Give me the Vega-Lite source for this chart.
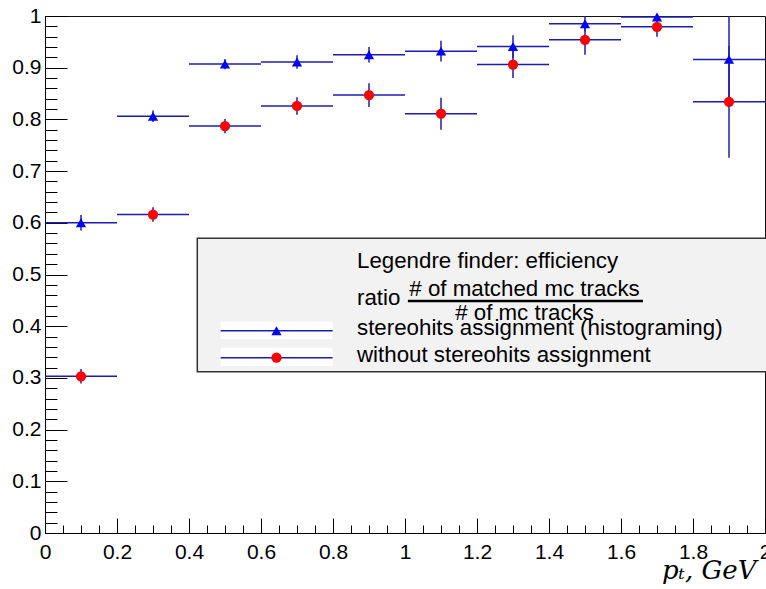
{
  "$schema": "https://vega.github.io/schema/vega-lite/v6.json",
  "width": 720,
  "height": 517,
  "autosize": "none",
  "padding": {"left": 45, "top": 16, "right": 1, "bottom": 56},
  "background": "white",
  "config": {
    "view": {"stroke": "#111111", "strokeWidth": 1},
    "font": "Liberation Sans",
    "text": {"font": "Liberation Sans", "fontSize": 22.3, "color": "black"}
  },
  "datasets": {
    "eff": [
      {"series": "stereohits assignment (histograming)", "lo": 0.0, "hi": 0.2, "pt": 0.1, "eff": 0.600, "elo": 0.585, "ehi": 0.615},
      {"series": "stereohits assignment (histograming)", "lo": 0.2, "hi": 0.4, "pt": 0.3, "eff": 0.806, "elo": 0.795, "ehi": 0.817},
      {"series": "stereohits assignment (histograming)", "lo": 0.4, "hi": 0.6, "pt": 0.5, "eff": 0.907, "elo": 0.897, "ehi": 0.917},
      {"series": "stereohits assignment (histograming)", "lo": 0.6, "hi": 0.8, "pt": 0.7, "eff": 0.911, "elo": 0.898, "ehi": 0.924},
      {"series": "stereohits assignment (histograming)", "lo": 0.8, "hi": 1.0, "pt": 0.9, "eff": 0.925, "elo": 0.910, "ehi": 0.940},
      {"series": "stereohits assignment (histograming)", "lo": 1.0, "hi": 1.2, "pt": 1.1, "eff": 0.932, "elo": 0.912, "ehi": 0.952},
      {"series": "stereohits assignment (histograming)", "lo": 1.2, "hi": 1.4, "pt": 1.3, "eff": 0.941, "elo": 0.919, "ehi": 0.963},
      {"series": "stereohits assignment (histograming)", "lo": 1.4, "hi": 1.6, "pt": 1.5, "eff": 0.985, "elo": 0.970, "ehi": 1.000},
      {"series": "stereohits assignment (histograming)", "lo": 1.6, "hi": 1.8, "pt": 1.7, "eff": 0.998, "elo": 0.990, "ehi": 1.000},
      {"series": "stereohits assignment (histograming)", "lo": 1.8, "hi": 2.0, "pt": 1.9, "eff": 0.916, "elo": 0.826, "ehi": 1.000},
      {"series": "without stereohits assignment", "lo": 0.0, "hi": 0.2, "pt": 0.1, "eff": 0.303, "elo": 0.289, "ehi": 0.317},
      {"series": "without stereohits assignment", "lo": 0.2, "hi": 0.4, "pt": 0.3, "eff": 0.616, "elo": 0.602, "ehi": 0.630},
      {"series": "without stereohits assignment", "lo": 0.4, "hi": 0.6, "pt": 0.5, "eff": 0.787, "elo": 0.773, "ehi": 0.801},
      {"series": "without stereohits assignment", "lo": 0.6, "hi": 0.8, "pt": 0.7, "eff": 0.826, "elo": 0.809, "ehi": 0.843},
      {"series": "without stereohits assignment", "lo": 0.8, "hi": 1.0, "pt": 0.9, "eff": 0.847, "elo": 0.824, "ehi": 0.870},
      {"series": "without stereohits assignment", "lo": 1.0, "hi": 1.2, "pt": 1.1, "eff": 0.811, "elo": 0.780, "ehi": 0.842},
      {"series": "without stereohits assignment", "lo": 1.2, "hi": 1.4, "pt": 1.3, "eff": 0.906, "elo": 0.880, "ehi": 0.932},
      {"series": "without stereohits assignment", "lo": 1.4, "hi": 1.6, "pt": 1.5, "eff": 0.954, "elo": 0.925, "ehi": 0.983},
      {"series": "without stereohits assignment", "lo": 1.6, "hi": 1.8, "pt": 1.7, "eff": 0.979, "elo": 0.960, "ehi": 0.998},
      {"series": "without stereohits assignment", "lo": 1.8, "hi": 2.0, "pt": 1.9, "eff": 0.834, "elo": 0.726, "ehi": 0.942}
    ]
  },
  "layer": [
    {
      "data": {"name": "eff"},
      "mark": {"type": "rule", "stroke": "#1c1cb0", "strokeWidth": 1.5},
      "encoding": {
        "x": {"field": "lo", "type": "quantitative", "scale": {"domain": [0, 2], "nice": false, "zero": false},
          "axis": {"orient": "bottom", "values": [0, 0.2, 0.4, 0.6, 0.8, 1, 1.2, 1.4, 1.6, 1.8, 2], "format": "~g",
            "ticks": false, "tickSize": 0, "grid": false, "domain": true, "domainColor": "black", "domainWidth": 1,
            "labelFont": "Liberation Sans", "labelFontSize": 21, "labelColor": "black", "labelPadding": 8, "labelFlush": false, "labelOverlap": false,
            "title": "pₜ, GeV", "titleFont": "DejaVu Serif", "titleFontStyle": "italic", "titleFontWeight": "normal", "titleFontSize": 26,
            "titleColor": "black", "titleAlign": "right", "titleBaseline": "alphabetic", "titleX": 711, "titleY": 45}},
        "x2": {"field": "hi"},
        "y": {"field": "eff", "type": "quantitative", "scale": {"domain": [0, 1], "nice": false, "zero": false},
          "axis": {"orient": "left", "values": [0, 0.1, 0.2, 0.3, 0.4, 0.5, 0.6, 0.7, 0.8, 0.9, 1], "format": "~g",
            "ticks": false, "tickSize": 0, "grid": false, "domain": true, "domainColor": "black", "domainWidth": 1,
            "labelFont": "Liberation Sans", "labelFontSize": 21, "labelColor": "black", "labelPadding": 4, "labelFlush": false, "labelOverlap": false,
            "title": null}}
      }
    },
    {
      "data": {"name": "eff"},
      "mark": {"type": "rule", "stroke": "#1c1cb0", "strokeWidth": 1.5, "clip": true},
      "encoding": {
        "x": {"field": "pt", "type": "quantitative", "scale": {"domain": [0, 2], "nice": false, "zero": false},
          "axis": {"orient": "bottom", "values": [0, 0.2, 0.4, 0.6, 0.8, 1, 1.2, 1.4, 1.6, 1.8, 2], "labels": false, "domain": false, "grid": false,
            "ticks": true, "tickSize": -15, "tickColor": "black", "tickWidth": 1, "title": null}},
        "y": {"field": "elo", "type": "quantitative", "scale": {"domain": [0, 1], "nice": false, "zero": false},
          "axis": {"orient": "left", "values": [0, 0.1, 0.2, 0.3, 0.4, 0.5, 0.6, 0.7, 0.8, 0.9, 1], "labels": false, "domain": false, "grid": false,
            "ticks": true, "tickSize": -22, "tickColor": "black", "tickWidth": 1, "title": null}},
        "y2": {"field": "ehi"}
      }
    },
    {
      "data": {"name": "eff"},
      "mark": {"type": "point", "filled": true, "opacity": 1, "size": 105},
      "encoding": {
        "x": {"field": "pt", "type": "quantitative", "scale": {"domain": [0, 2], "nice": false, "zero": false},
          "axis": {"orient": "bottom", "values": [0, 0.05, 0.1, 0.15, 0.2, 0.25, 0.3, 0.35, 0.4, 0.45, 0.5, 0.55, 0.6, 0.65, 0.7, 0.75, 0.8, 0.85, 0.9, 0.95, 1, 1.05, 1.1, 1.15, 1.2, 1.25, 1.3, 1.35, 1.4, 1.45, 1.5, 1.55, 1.6, 1.65, 1.7, 1.75, 1.8, 1.85, 1.9, 1.95, 2],
            "labels": false, "domain": false, "grid": false, "ticks": true, "tickSize": -8, "tickColor": "black", "tickWidth": 1, "title": null}},
        "y": {"field": "eff", "type": "quantitative", "scale": {"domain": [0, 1], "nice": false, "zero": false},
          "axis": {"orient": "left", "values": [0, 0.02, 0.04, 0.06, 0.08, 0.1, 0.12, 0.14, 0.16, 0.18, 0.2, 0.22, 0.24, 0.26, 0.28, 0.3, 0.32, 0.34, 0.36, 0.38, 0.4, 0.42, 0.44, 0.46, 0.48, 0.5, 0.52, 0.54, 0.56, 0.58, 0.6, 0.62, 0.64, 0.66, 0.68, 0.7, 0.72, 0.74, 0.76, 0.78, 0.8, 0.82, 0.84, 0.86, 0.88, 0.9, 0.92, 0.94, 0.96, 0.98, 1],
            "labels": false, "domain": false, "grid": false, "ticks": true, "tickSize": -12, "tickColor": "black", "tickWidth": 1, "title": null}},
        "shape": {"field": "series", "type": "nominal", "scale": {"domain": ["stereohits assignment (histograming)", "without stereohits assignment"], "range": ["triangle-up", "circle"]}, "legend": null},
        "color": {"field": "series", "type": "nominal", "scale": {"domain": ["stereohits assignment (histograming)", "without stereohits assignment"], "range": ["#0000ff", "#ff0000"]}, "legend": null}
      }
    },
    {
      "data": {"values": [{}]},
      "mark": {"type": "rect", "fill": "#f2f2f2", "stroke": "#333333", "strokeWidth": 1.5},
      "encoding": {
        "x": {"datum": 0.423, "type": "quantitative", "scale": {"domain": [0, 2]}, "axis": null},
        "x2": {"datum": 2.01},
        "y": {"datum": 0.570, "type": "quantitative", "scale": {"domain": [0, 1]}, "axis": null},
        "y2": {"datum": 0.312}
      }
    },
    {
      "data": {"values": [{}]},
      "mark": {"type": "rect", "fill": "white", "strokeWidth": 0},
      "encoding": {
        "x": {"datum": 0.488, "type": "quantitative", "scale": {"domain": [0, 2]}, "axis": null},
        "x2": {"datum": 0.799},
        "y": {"datum": 0.4087, "type": "quantitative", "scale": {"domain": [0, 1]}, "axis": null},
        "y2": {"datum": 0.3752}
      }
    },
    {
      "data": {"values": [{}]},
      "mark": {"type": "rect", "fill": "white", "strokeWidth": 0},
      "encoding": {
        "x": {"datum": 0.488, "type": "quantitative", "scale": {"domain": [0, 2]}, "axis": null},
        "x2": {"datum": 0.799},
        "y": {"datum": 0.3584, "type": "quantitative", "scale": {"domain": [0, 1]}, "axis": null},
        "y2": {"datum": 0.3230}
      }
    },
    {
      "data": {"values": [{}]},
      "mark": {"type": "rule", "stroke": "#1c1cb0", "strokeWidth": 1.5},
      "encoding": {
        "x": {"datum": 0.488, "type": "quantitative", "scale": {"domain": [0, 2]}, "axis": null},
        "x2": {"datum": 0.799},
        "y": {"datum": 0.3913, "type": "quantitative", "scale": {"domain": [0, 1]}, "axis": null}
      }
    },
    {
      "data": {"values": [{}]},
      "mark": {"type": "rule", "stroke": "#1c1cb0", "strokeWidth": 1.5},
      "encoding": {
        "x": {"datum": 0.488, "type": "quantitative", "scale": {"domain": [0, 2]}, "axis": null},
        "x2": {"datum": 0.799},
        "y": {"datum": 0.3391, "type": "quantitative", "scale": {"domain": [0, 1]}, "axis": null}
      }
    },
    {
      "data": {"values": [{}]},
      "mark": {"type": "point", "shape": "triangle-up", "filled": true, "color": "#0000ff", "opacity": 1, "size": 105},
      "encoding": {
        "x": {"datum": 0.643, "type": "quantitative", "scale": {"domain": [0, 2]}, "axis": null},
        "y": {"datum": 0.3913, "type": "quantitative", "scale": {"domain": [0, 1]}, "axis": null}
      }
    },
    {
      "data": {"values": [{}]},
      "mark": {"type": "point", "shape": "circle", "filled": true, "color": "#ff0000", "opacity": 1, "size": 105},
      "encoding": {
        "x": {"datum": 0.643, "type": "quantitative", "scale": {"domain": [0, 2]}, "axis": null},
        "y": {"datum": 0.3391, "type": "quantitative", "scale": {"domain": [0, 1]}, "axis": null}
      }
    },
    {
      "data": {"values": [{"label": "Legendre finder: efficiency"}]},
      "mark": {"type": "text", "align": "left", "baseline": "alphabetic"},
      "encoding": {
        "text": {"field": "label"},
        "x": {"datum": 0.8667, "type": "quantitative", "scale": {"domain": [0, 2]}, "axis": null},
        "y": {"datum": 0.512, "type": "quantitative", "scale": {"domain": [0, 1]}, "axis": null}
      }
    },
    {
      "data": {"values": [{"label": "ratio"}]},
      "mark": {"type": "text", "align": "left", "baseline": "alphabetic"},
      "encoding": {
        "text": {"field": "label"},
        "x": {"datum": 0.8667, "type": "quantitative", "scale": {"domain": [0, 2]}, "axis": null},
        "y": {"datum": 0.441, "type": "quantitative", "scale": {"domain": [0, 1]}, "axis": null}
      }
    },
    {
      "data": {"values": [{"label": "# of matched mc tracks"}]},
      "mark": {"type": "text", "align": "center", "baseline": "alphabetic"},
      "encoding": {
        "text": {"field": "label"},
        "x": {"datum": 1.332, "type": "quantitative", "scale": {"domain": [0, 2]}, "axis": null},
        "y": {"datum": 0.4584, "type": "quantitative", "scale": {"domain": [0, 1]}, "axis": null}
      }
    },
    {
      "data": {"values": [{}]},
      "mark": {"type": "rule", "stroke": "black", "strokeWidth": 2.5},
      "encoding": {
        "x": {"datum": 1.008, "type": "quantitative", "scale": {"domain": [0, 2]}, "axis": null},
        "x2": {"datum": 1.661},
        "y": {"datum": 0.4487, "type": "quantitative", "scale": {"domain": [0, 1]}, "axis": null}
      }
    },
    {
      "data": {"values": [{"label": "# of mc tracks"}]},
      "mark": {"type": "text", "align": "center", "baseline": "alphabetic"},
      "encoding": {
        "text": {"field": "label"},
        "x": {"datum": 1.332, "type": "quantitative", "scale": {"domain": [0, 2]}, "axis": null},
        "y": {"datum": 0.412, "type": "quantitative", "scale": {"domain": [0, 1]}, "axis": null}
      }
    },
    {
      "data": {"values": [{"label": "stereohits assignment (histograming)"}]},
      "mark": {"type": "text", "align": "left", "baseline": "alphabetic"},
      "encoding": {
        "text": {"field": "label"},
        "x": {"datum": 0.8667, "type": "quantitative", "scale": {"domain": [0, 2]}, "axis": null},
        "y": {"datum": 0.383, "type": "quantitative", "scale": {"domain": [0, 1]}, "axis": null}
      }
    },
    {
      "data": {"values": [{"label": "without stereohits assignment"}]},
      "mark": {"type": "text", "align": "left", "baseline": "alphabetic"},
      "encoding": {
        "text": {"field": "label"},
        "x": {"datum": 0.8667, "type": "quantitative", "scale": {"domain": [0, 2]}, "axis": null},
        "y": {"datum": 0.3313, "type": "quantitative", "scale": {"domain": [0, 1]}, "axis": null}
      }
    }
  ],
  "resolve": {"scale": {"x": "shared", "y": "shared"}, "axis": {"x": "independent", "y": "independent"}}
}
